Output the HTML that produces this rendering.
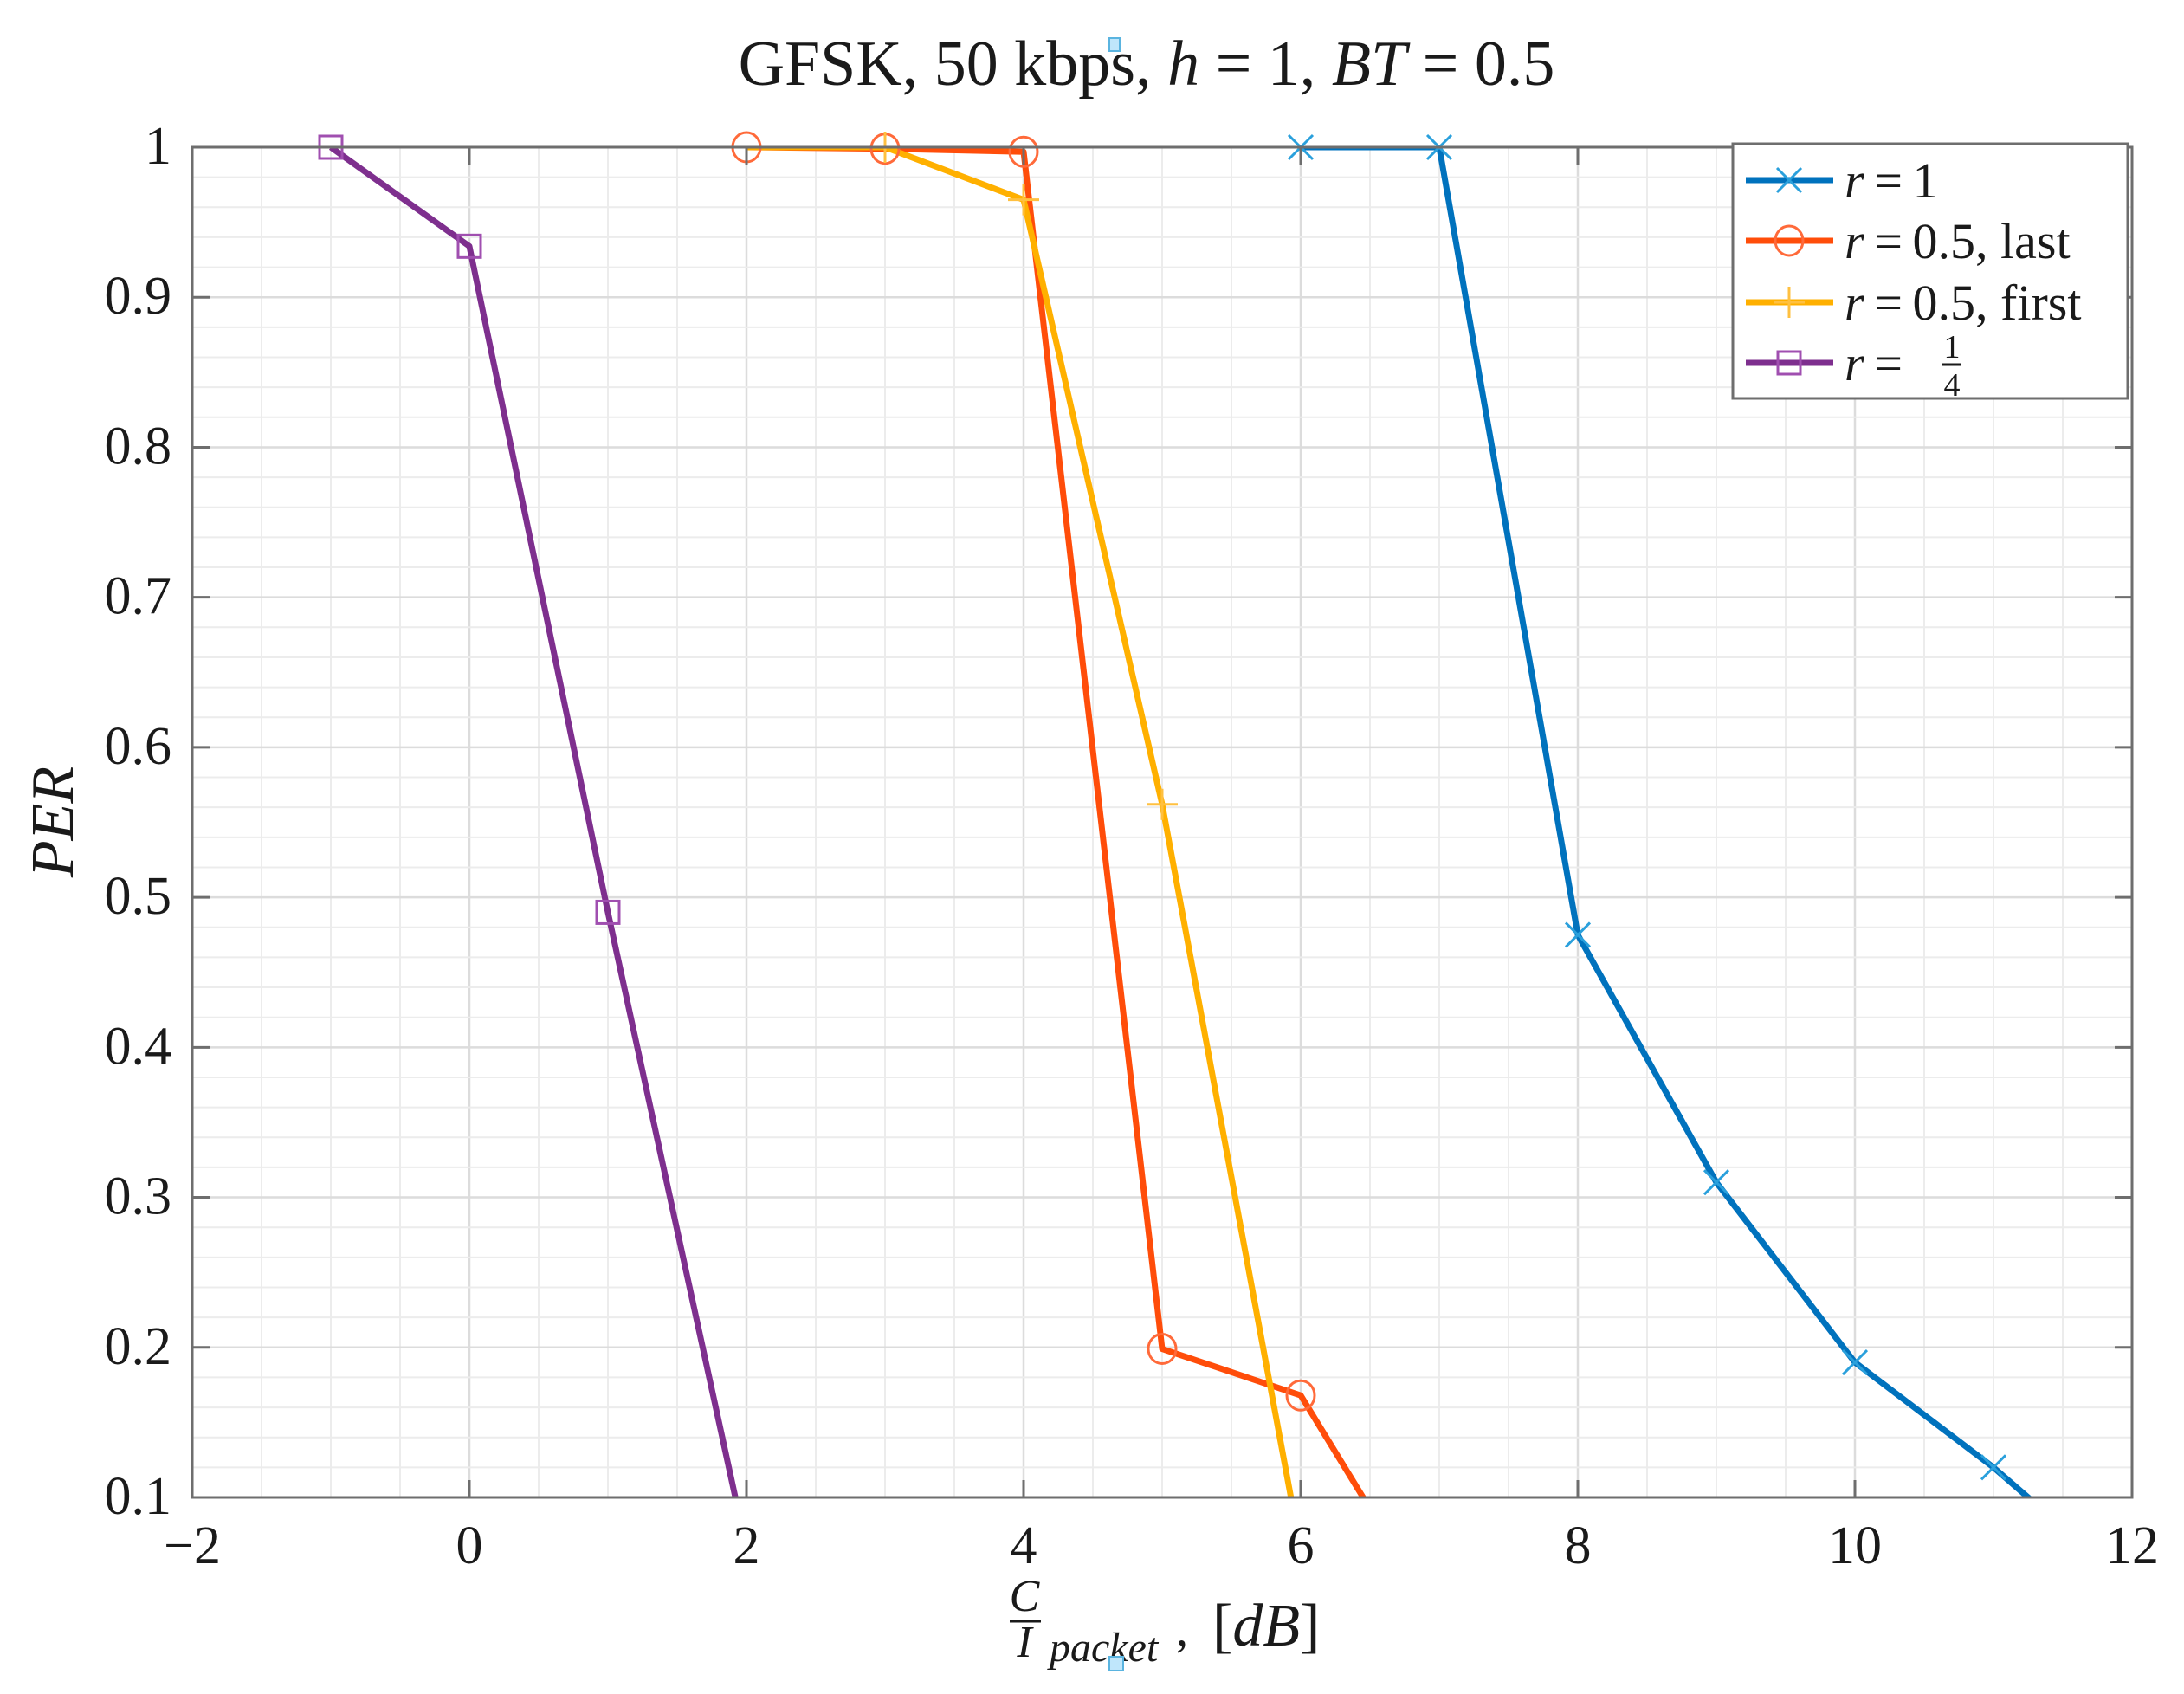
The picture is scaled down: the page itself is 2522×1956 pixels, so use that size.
<!DOCTYPE html>
<html><head><meta charset="utf-8"><style>
html,body{margin:0;padding:0;background:#fff;}
svg{display:block;}
text{font-family:"Liberation Serif",serif;fill:#1a1a1a;}
</style></head><body>
<svg id="chart" width="2522" height="1956" viewBox="0 0 2522 1956" xmlns="http://www.w3.org/2000/svg">
<defs><clipPath id="plotclip"><rect x="222" y="170" width="2240" height="1559"/></clipPath></defs>
<rect x="0" y="0" width="2522" height="1956" fill="#fff"/>
<g id="grid"></g>
<g id="series" clip-path="url(#plotclip)"></g>
<g id="markers"></g>
<g id="axes"></g>
<text x="1324" y="98" font-size="74" text-anchor="middle">GFSK, 50 kbps, <tspan font-style="italic">h</tspan> = 1, <tspan font-style="italic">BT</tspan> = 0.5</text>
<rect x="1281" y="44" width="12" height="15" fill="#bfe6fb" stroke="#5ab4e0" stroke-width="2"/>
<text transform="translate(84,949) rotate(-90)" font-size="70" font-style="italic" text-anchor="middle">PER</text>
<g>
<text x="1183" y="1860" font-size="52" font-style="italic" text-anchor="middle">C</text>
<line x1="1166" y1="1872" x2="1202" y2="1872" stroke="#1a1a1a" stroke-width="3"/>
<text x="1183" y="1913" font-size="52" font-style="italic" text-anchor="middle">I</text>
<text x="1212" y="1918" font-size="48" font-style="italic">packet</text>
<text x="1358" y="1900" font-size="56">,</text>
<text x="1400" y="1900" font-size="70">[<tspan font-style="italic">dB</tspan>]</text>
<rect x="1281" y="1913" width="16" height="16" fill="#bfe6fb" stroke="#5ab4e0" stroke-width="2"/>
</g>
<g id="legend"></g>
</svg>
<script>
const xTicks = [-2,0,2,4,6,8,10,12];
const yTicks = [0.1,0.2,0.3,0.4,0.5,0.6,0.7,0.8,0.9,1];
const xR1 = [6,7,8,9,10,11,12];
const yR1 = [1,1,0.475,0.31,0.19,0.12,0.04];
const xLast = [2,3,4,5,6,7];
const yLast = [1,0.999,0.997,0.199,0.168,0.017];
const xFirst = [2,3,4,5,6];
const yFirst = [1,1,0.965,0.562,0.065];
const xQuarter = [-1,0,1,2];
const yQuarter = [1,0.934,0.49,0.066];
const seriesNames = ["r = 1","r = 0.5, last","r = 0.5, first","r = 1/4"];

const L=222,R=2462,T=170,B=1729;
const sx=v=>L+(v-(-2))/(14)*(R-L);
const sy=v=>B-(v-0.1)/(0.9)*(B-T);
const NS="http://www.w3.org/2000/svg";
function mk(tag,attrs,parent){const e=document.createElementNS(NS,tag);for(const k in attrs)e.setAttribute(k,attrs[k]);parent.appendChild(e);return e;}
const grid=document.getElementById('grid'),axes=document.getElementById('axes'),ser=document.getElementById('series'),mg=document.getElementById('markers'),leg=document.getElementById('legend');

for(let v=-2;v<=12.001;v+=0.5){const minor=Math.abs(v/2-Math.round(v/2))>1e-6;
 const l=mk('line',{x1:sx(v),x2:sx(v),y1:T,y2:B,stroke:minor?'#ececec':'#dcdcdc','stroke-width':minor?2:2.5},grid);
 }
for(let i=0;i<=45;i++){const v=0.1+i*0.02;const minor=i%5!==0;
 const l=mk('line',{x1:L,x2:R,y1:sy(v),y2:sy(v),stroke:minor?'#ececec':'#dcdcdc','stroke-width':minor?2:2.5},grid);
 }

const box=mk('rect',{x:L,y:T,width:R-L,height:B-T,fill:'none',stroke:'#6e6e6e','stroke-width':3},axes);

xTicks.forEach(v=>{const x=sx(v);
 mk('line',{x1:x,x2:x,y1:B,y2:B-20,stroke:'#6e6e6e','stroke-width':3},axes);
 mk('line',{x1:x,x2:x,y1:T,y2:T+20,stroke:'#6e6e6e','stroke-width':3},axes);
 const t=mk('text',{x:x,y:1805,'font-size':62,'text-anchor':'middle'},axes);
 t.textContent=v<0?'\u2212'+(-v):String(v);
 });
yTicks.forEach(v=>{const y=sy(v);
 mk('line',{x1:L,x2:L+20,y1:y,y2:y,stroke:'#6e6e6e','stroke-width':3},axes);
 mk('line',{x1:R,x2:R-20,y1:y,y2:y,stroke:'#6e6e6e','stroke-width':3},axes);
 const t=mk('text',{x:198,y:y+19,'font-size':62,'text-anchor':'end'},axes);
 t.textContent=v===1?'1':v.toFixed(1);
 });

function marker(type,x,y,color,parent){
 let e;
 if(type==='x'){e=mk('path',{d:`M${x-14} ${y-14}L${x+14} ${y+14}M${x-14} ${y+14}L${x+14} ${y-14}`,stroke:color,'stroke-width':3,fill:'none'},parent);}
 else if(type==='o'){e=mk('ellipse',{cx:x,cy:y,rx:16,ry:17,stroke:color,'stroke-width':3,fill:'none'},parent);}
 else if(type==='+'){e=mk('path',{d:`M${x-18} ${y}L${x+18} ${y}M${x} ${y-18}L${x} ${y+18}`,stroke:color,'stroke-width':3,fill:'none'},parent);}
 else {e=mk('rect',{x:x-13,y:y-13,width:26,height:26,stroke:color,'stroke-width':3,fill:'none'},parent);}
 return e;}

const S=[
 {xs:xR1,ys:yR1,line:'#0072BD',mc:'#2aa0dc',m:'x',name:'series-r1'},
 {xs:xLast,ys:yLast,line:'#FF4D0A',mc:'#ff6a3a',m:'o',name:'series-r05-last'},
 {xs:xFirst,ys:yFirst,line:'#FFB000',mc:'#ffc040',m:'+',name:'series-r05-first'},
 {xs:xQuarter,ys:yQuarter,line:'#7E2F8E',mc:'#a04fb0',m:'s',name:'series-r025'}];
S.forEach(s=>{
 const pts=s.xs.map((x,i)=>sx(x)+','+sy(s.ys[i])).join(' ');
 const pl=mk('polyline',{points:pts,fill:'none',stroke:s.line,'stroke-width':7,'stroke-linejoin':'round'},ser);
 
 s.xs.forEach((x,i)=>{if(s.ys[i]<0.1)return;if(s.m==='+'&&x===2)return;
  const e=marker(s.m,sx(x),sy(s.ys[i]),s.mc,mg);
  });
});

const lb=mk('rect',{x:2001,y:166,width:456,height:294,fill:'#fff',stroke:'#6e6e6e','stroke-width':3},leg);

const rowsY=[208,278,349,419];
S.forEach((s,i)=>{const y=rowsY[i];
 const g=mk('g',{},leg);
 
 mk('line',{x1:2016,x2:2117,y1:y,y2:y,stroke:s.line,'stroke-width':7},g);
 marker(s.m,2066,y,s.mc,g);
 const t=mk('text',{x:2130,y:y+20,'font-size':58},g);
 if(i<3){t.innerHTML='<tspan font-style="italic">r</tspan>\u2009=\u2009'+seriesNames[i].slice(4);}
 else{t.innerHTML='<tspan font-style="italic">r</tspan>\u2009=';
  const n=mk('text',{x:2254,y:y-6,'font-size':38,'text-anchor':'middle'},g);n.textContent='1';
  mk('line',{x1:2243,x2:2265,y1:y+2,y2:y+2,stroke:'#1a1a1a','stroke-width':3},g);
  const d=mk('text',{x:2254,y:y+38,'font-size':38,'text-anchor':'middle'},g);d.textContent='4';}
});
</script>
</body></html>
